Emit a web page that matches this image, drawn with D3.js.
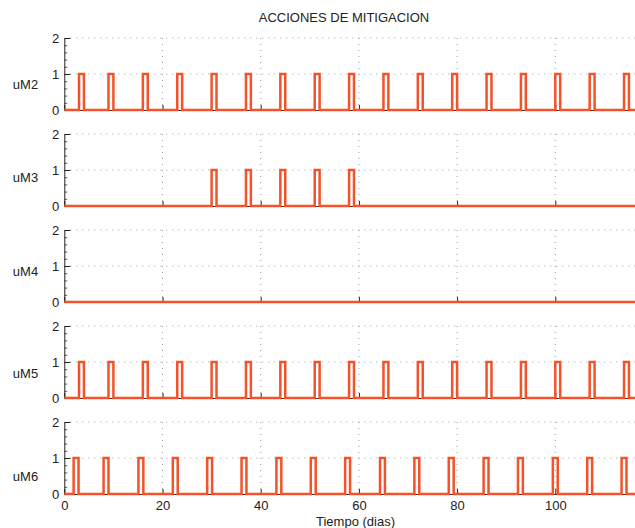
<!DOCTYPE html>
<html>
<head>
<meta charset="utf-8">
<script src="https://cdn.jsdelivr.net/npm/d3@7"></script>
<style>
  body { margin: 0; background: #fff; }
  text { font-family: "Liberation Sans", Arial, Helvetica, sans-serif; }
</style>
</head>
<body>
<svg id="chart" width="635" height="528"></svg>
<script>
// Mitigation actions (on/off) per control, over time in days
const panelNames = ["uM2", "uM3", "uM4", "uM5", "uM6"];
// day on which each action switches on
const uM2Onsets = [3, 9, 16, 23, 30, 37, 44, 51, 58, 65, 72, 79, 86, 93, 100, 107, 114];
const uM3Onsets = [30, 37, 44, 51, 58];
const uM4Onsets = [];
const uM5Onsets = [3, 9, 16, 23, 30, 37, 44, 51, 58, 65, 72, 79, 86, 93, 100, 107, 114];
const uM6Onsets = [1.9, 8.0, 15.1, 22.1, 29.1, 36.1, 43.2, 50.2, 57.2, 64.3, 71.3, 78.3, 85.4, 92.4, 99.5, 106.5, 113.5];
const pulseDays = 1.0;     // how long each action stays on
const onLevel = 1;
const offLevel = 0;
const timeEnd = 120;
const xTicks = [0, 20, 40, 60, 80, 100];
const yTicks = [0, 1, 2];
const yMinorTicks = [0.2, 0.4, 0.6, 0.8, 1.2, 1.4, 1.6, 1.8];

const onsetsByPanel = [uM2Onsets, uM3Onsets, uM4Onsets, uM5Onsets, uM6Onsets];

// layout
const W = 635, H = 528;
const left = 64.3, pxPerDay = 4.91;
const panelTop0 = 38, panelStep = 96, panelH = 72;
const labelDy = [46, 43, 41, 47, 54];
const orange = "#f3522a";
const gridColor = "#9a9a9a";
const inkColor = "#222";
const fontSize = 13;

const svg = d3.select("#chart");
svg.append("rect").attr("width", W).attr("height", H).attr("fill", "#fff");

const x = d3.scaleLinear().domain([0, timeEnd]).range([left, left + timeEnd * pxPerDay]);

function stairs(onsets) {
  const pts = [{ t: 0, v: offLevel }];
  onsets.forEach(s => {
    pts.push({ t: s, v: onLevel });
    pts.push({ t: s + pulseDays, v: offLevel });
  });
  pts.push({ t: timeEnd, v: offLevel });
  return pts;
}

panelNames.forEach((name, i) => {
  const top = panelTop0 + i * panelStep;
  const y = d3.scaleLinear().domain([0, 2]).range([top + panelH, top]);
  const g = svg.append("g");

  // dotted grid
  const grid = g.append("g")
    .attr("stroke", gridColor)
    .attr("stroke-width", 1)
    .attr("stroke-dasharray", "1,5")
    .attr("fill", "none");
  [1, 2].forEach(v => {
    grid.append("line")
      .attr("x1", x(0) + 6).attr("x2", x(timeEnd))
      .attr("y1", y(v)).attr("y2", y(v));
  });
  xTicks.filter(v => v > 0).forEach(v => {
    grid.append("line")
      .attr("x1", x(v)).attr("x2", x(v))
      .attr("y1", y(2)).attr("y2", y(0));
  });

  // bottom axis (ticks point inward)
  const xAxis = d3.axisBottom(x).tickValues(xTicks).tickSize(-5).tickSizeOuter(0).tickPadding(7);
  if (i < panelNames.length - 1) xAxis.tickFormat("");
  const gx = g.append("g")
    .attr("transform", `translate(0,${y(0)})`)
    .call(xAxis);
  gx.attr("font-size", fontSize).attr("font-family", null);
  gx.selectAll("path,line").attr("stroke", inkColor);
  gx.selectAll("text").attr("fill", inkColor);

  // left axis, with minor ticks
  const gyMinor = g.append("g")
    .attr("transform", `translate(${x(0)},0)`)
    .call(d3.axisLeft(y).tickValues(yMinorTicks).tickSize(-3).tickSizeOuter(0).tickFormat(""));
  gyMinor.selectAll("line").attr("stroke", "#666");
  gyMinor.select(".domain").remove();

  const gy = g.append("g")
    .attr("transform", `translate(${x(0)},0)`)
    .call(d3.axisLeft(y).tickValues(yTicks).tickSize(-6).tickSizeOuter(0).tickPadding(5).tickFormat(d3.format("d")));
  gy.attr("font-size", fontSize).attr("font-family", null);
  gy.selectAll("path,line").attr("stroke", inkColor);
  gy.selectAll("text").attr("fill", inkColor);

  // control signal
  const line = d3.line()
    .x(d => x(d.t))
    .y(d => y(d.v))
    .curve(d3.curveStepAfter);
  g.append("path")
    .datum(stairs(onsetsByPanel[i]))
    .attr("fill", "none")
    .attr("stroke", orange)
    .attr("stroke-width", 2.5)
    .attr("stroke-linejoin", "miter")
    .attr("d", line);

  // panel label
  g.append("text")
    .attr("x", 25.5)
    .attr("y", top + labelDy[i])
    .attr("dy", "0.35em")
    .attr("text-anchor", "middle")
    .attr("font-size", fontSize)
    .attr("fill", inkColor)
    .text(name);
});

svg.append("text")
  .attr("x", 344).attr("y", 22)
  .attr("text-anchor", "middle")
  .attr("font-size", fontSize)
  .attr("fill", inkColor)
  .text("ACCIONES DE MITIGACION");

svg.append("text")
  .attr("x", 355.5).attr("y", 525.5)
  .attr("text-anchor", "middle")
  .attr("font-size", fontSize)
  .attr("fill", inkColor)
  .text("Tiempo (dias)");
</script>
</body>
</html>
